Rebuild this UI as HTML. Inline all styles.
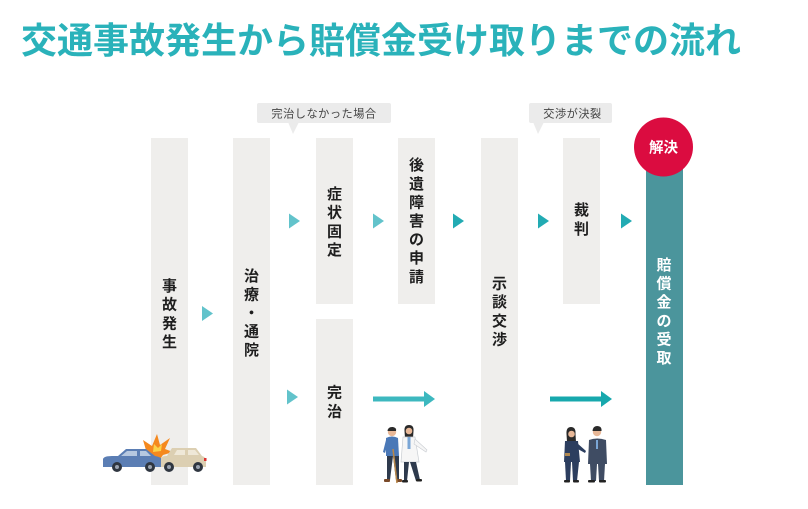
<!DOCTYPE html>
<html><head><meta charset="utf-8"><style>
html,body{margin:0;padding:0;background:#fff;}
body{width:808px;height:509px;overflow:hidden;position:relative;}
svg{position:absolute;left:0;top:0;}
.t{font-family:"Liberation Sans","Noto Sans CJK JP",sans-serif;}
</style></head><body>
<svg width="808" height="509" viewBox="0 0 808 509" xmlns="http://www.w3.org/2000/svg">
<!-- title -->
<text class="t" x="21" y="53" font-size="36" font-weight="700" fill="#2ab2ba" font-family="'Noto Sans CJK JP',sans-serif">交通事故発生から賠償金受け取りまでの流れ</text>

<!-- columns -->
<g fill="#efeeec">
<rect x="151" y="138" width="37" height="347"/>
<rect x="233" y="138" width="37" height="347"/>
<rect x="316" y="138" width="37" height="166"/>
<rect x="398" y="138" width="37" height="166"/>
<rect x="316" y="319" width="37" height="166"/>
<rect x="481" y="138" width="37" height="347"/>
<rect x="563" y="138" width="37" height="166"/>
</g>
<rect x="646" y="150" width="37" height="335" fill="#4b959c"/>
<circle cx="663.5" cy="147" r="29.5" fill="#db0c40"/>
<text x="663.5" y="152.5" font-size="14.5" font-weight="700" fill="#fff" text-anchor="middle" font-family="'Noto Sans CJK JP',sans-serif">解決</text>

<!-- callouts -->
<rect x="257" y="103" width="134" height="20" rx="2" fill="#ebebeb"/>
<polygon points="288,122 299,122 293,134" fill="#ebebeb"/>
<text x="324" y="117.5" font-size="11.2" fill="#444" text-anchor="middle" letter-spacing="0.5" font-family="'Noto Sans CJK JP',sans-serif">完治しなかった場合</text>
<rect x="529" y="103" width="83" height="20" rx="2" fill="#ebebeb"/>
<polygon points="533,122 544,122 538,134" fill="#ebebeb"/>
<text x="572.5" y="117.5" font-size="11.2" fill="#444" text-anchor="middle" letter-spacing="0.5" font-family="'Noto Sans CJK JP',sans-serif">交渉が決裂</text>

<!-- column labels -->
<g font-family="'Noto Sans CJK JP',sans-serif" font-size="15" font-weight="700" fill="#1e1e1e" text-anchor="middle">
<text x="169.5" y="291">事</text><text x="169.5" y="309.7">故</text><text x="169.5" y="328.3">発</text><text x="169.5" y="346.9">生</text>
<text x="251.5" y="280.8">治</text><text x="251.5" y="299.4">療</text><text x="251.5" y="318">・</text><text x="251.5" y="336.6">通</text><text x="251.5" y="355.2">院</text>
<text x="334.5" y="199.1">症</text><text x="334.5" y="217.7">状</text><text x="334.5" y="236.3">固</text><text x="334.5" y="254.9">定</text>
<text x="416.5" y="170.2">後</text><text x="416.5" y="188.8">遺</text><text x="416.5" y="207.4">障</text><text x="416.5" y="226">害</text><text x="416.5" y="244.6">の</text><text x="416.5" y="263.2">申</text><text x="416.5" y="281.8">請</text>
<text x="499.5" y="288.6">示</text><text x="499.5" y="307.2">談</text><text x="499.5" y="325.8">交</text><text x="499.5" y="344.4">渉</text>
<text x="581.5" y="215.2">裁</text><text x="581.5" y="233.8">判</text>
<text x="334.5" y="397.7">完</text><text x="334.5" y="416.3">治</text>
</g>
<g font-family="'Noto Sans CJK JP',sans-serif" font-size="15" font-weight="700" fill="#fff" text-anchor="middle">
<text x="664" y="270">賠</text><text x="664" y="288.6">償</text><text x="664" y="307.2">金</text><text x="664" y="325.8">の</text><text x="664" y="344.4">受</text><text x="664" y="363">取</text>
</g>

<!-- small arrows -->
<g fill="#62c3cb">
<polygon points="202,306 213,313.5 202,321"/>
<polygon points="289,213.5 300,221 289,228.5"/>
<polygon points="373,213.5 384,221 373,228.5"/>
<polygon points="287,389.5 298,397 287,404.5"/>
</g>
<g fill="#22abb3">
<polygon points="453,213.5 464,221 453,228.5"/>
<polygon points="538,213.5 549,221 538,228.5"/>
<polygon points="621,213.5 632,221 621,228.5"/>
</g>
<!-- long arrows -->
<rect x="373" y="396.5" width="53" height="5" fill="#3db8bf"/>
<polygon points="424,391 435,399 424,407" fill="#3db8bf"/>
<rect x="550" y="396.5" width="53" height="5" fill="#17a8ad"/>
<polygon points="601,391 612,399 601,407" fill="#17a8ad"/>

<!-- cars -->
<g>
<polygon points="148,457 143,440 152,446 157,434 160,445 170,438 165,449 173,452 163,455 160,459" fill="#f5891f"/>
<polygon points="153,452 154,444 158,448 162,444 161,451" fill="#fbd24a"/>
<path d="M103,459 Q104,456 112,456 L118,456 L126,449 L146,449 L155,456 Q162,457 163,461 L163,467 L103,467 Z" fill="#5b7eb4"/>
<polygon points="121,456 127,451 137,451 137,456" fill="#b6c8e0"/>
<polygon points="140,456 140,451 146,451 151,456" fill="#b6c8e0"/>
<circle cx="117" cy="467" r="5" fill="#2f3640"/><circle cx="117" cy="467" r="2" fill="#9aa3b0"/>
<circle cx="150" cy="467" r="5" fill="#2f3640"/><circle cx="150" cy="467" r="2" fill="#9aa3b0"/>
<path d="M161,458 Q162,456 167,456 L172,448 L196,448 L202,456 Q206,457 206,461 L206,467 L161,467 Z" fill="#dccfb2"/>
<polygon points="174,455 177,450 185,450 185,455" fill="#efe8d8"/>
<polygon points="188,455 188,450 195,450 199,455" fill="#efe8d8"/>
<rect x="204" y="458" width="2.5" height="3" fill="#d33"/>
<circle cx="169" cy="467" r="5" fill="#2f3640"/><circle cx="169" cy="467" r="2" fill="#9aa3b0"/>
<circle cx="198" cy="467" r="5" fill="#2f3640"/><circle cx="198" cy="467" r="2" fill="#9aa3b0"/>
</g>

<!-- patient + doctor -->
<g>
<circle cx="392" cy="432" r="4.2" fill="#e8b898"/>
<path d="M387.5,431 Q388,426.5 393,427 Q397,428 396,431 Z" fill="#2a2a2a"/>
<path d="M386,438 Q392,435 398,438 L399,456 L386,456 Z" fill="#4a78b7"/>
<polygon points="386,440 383,452 385,453 388,443" fill="#4a78b7"/>
<polygon points="387,456 393,456 390,480 387,480" fill="#2e3a4d"/>
<polygon points="393,456 399,456 399,480 396,480" fill="#2e3a4d"/>
<rect x="384" y="479" width="6" height="3" rx="1" fill="#7a4a2a"/>
<rect x="396" y="479" width="6" height="3" rx="1" fill="#7a4a2a"/>
<line x1="393" y1="449" x2="397" y2="483" stroke="#b8874a" stroke-width="1.5"/>
<circle cx="409" cy="430" r="4" fill="#e8b898"/>
<path d="M404.5,431 Q404,425 409,425 Q414,425 413.5,431 L413,438 L405,438 Z" fill="#2a2a2a"/>
<circle cx="409" cy="431" r="3.3" fill="#e8b898"/>
<path d="M403,437 L415,437 L419,462 L401,462 Z" fill="#f6f6f6" stroke="#c9cdd2" stroke-width="0.7"/>
<rect x="407.5" y="437" width="3" height="12" fill="#7aa6d6"/>
<polygon points="415,439 427,450 426,452 414,444" fill="#f6f6f6" stroke="#c9cdd2" stroke-width="0.6"/>
<polygon points="404,462 409,462 407,481 404,481" fill="#2e3a4d"/>
<polygon points="410,462 416,462 420,480 416,481" fill="#2e3a4d"/>
<rect x="402" y="480" width="6" height="2.5" rx="1" fill="#222"/>
<rect x="416" y="479" width="6" height="2.5" rx="1" fill="#222"/>
</g>

<!-- business people -->
<g>
<circle cx="571" cy="433" r="4" fill="#e8b898"/>
<path d="M566.5,434 Q566,427 571,427 Q576,427 575.5,434 L576,442 L567,442 Z" fill="#2a2a2a"/>
<circle cx="571.5" cy="434" r="3.3" fill="#e8b898"/>
<path d="M565,441 L578,441 L580,462 L564,462 Z" fill="#2c3e5f"/>
<polygon points="577,443 586,451 585,453 576,448" fill="#2c3e5f"/>
<rect x="565" y="453" width="5" height="3" fill="#b08850"/>
<polygon points="565,462 571,462 570,481 566,481" fill="#2c3e5f"/>
<polygon points="572,462 579,462 577,481 573,481" fill="#2c3e5f"/>
<rect x="564" y="480" width="6" height="2.5" rx="1" fill="#222"/>
<rect x="573" y="480" width="6" height="2.5" rx="1" fill="#222"/>
<circle cx="597" cy="432" r="4.2" fill="#e8b898"/>
<path d="M592.5,431 Q593,426 597,426 Q602,426 601.5,431 Z" fill="#2a2a2a"/>
<path d="M589,440 Q597,437 606,440 L607,464 L588,464 Z" fill="#3f4c63"/>
<rect x="596" y="440" width="2" height="9" fill="#7aa6d6"/>
<polygon points="590,464 597,464 596,481 591,481" fill="#3f4c63"/>
<polygon points="598,464 605,464 604,481 599,481" fill="#3f4c63"/>
<rect x="588" y="480" width="7" height="2.5" rx="1" fill="#222"/>
<rect x="599" y="480" width="7" height="2.5" rx="1" fill="#222"/>
</g>
</svg>
</body></html>
